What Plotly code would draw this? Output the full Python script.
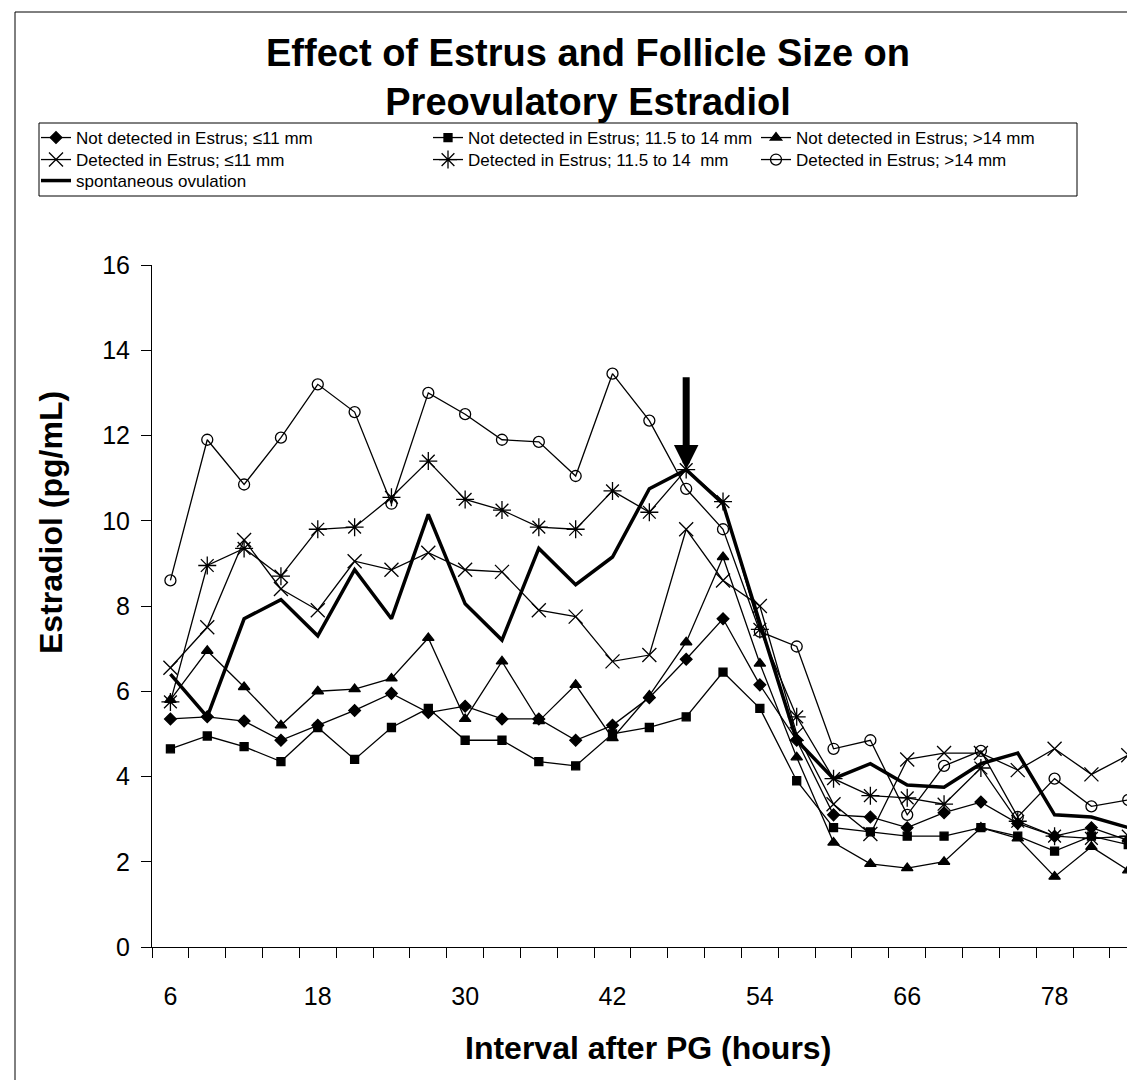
import plotly.graph_objects as go

# ---------------- data ----------------
hours = [6, 9, 12, 15, 18, 21, 24, 27, 30, 33, 36, 39, 42, 45, 48, 51, 54,
         57, 60, 63, 66, 69, 72, 75, 78, 81, 84]
x_tick_vals = [6, 18, 30, 42, 54, 66, 78]
y_tick_vals = [0, 2, 4, 6, 8, 10, 12, 14, 16]

nd_le11 = [5.35, 5.4, 5.3, 4.85, 5.2, 5.55, 5.95, 5.5, 5.65, 5.35, 5.35, 4.85, 5.2,
           5.85, 6.75, 7.7, 6.15, 4.85, 3.1, 3.05, 2.8, 3.15, 3.4, 2.9, 2.6, 2.8, 2.5]
nd_mid = [4.65, 4.95, 4.7, 4.35, 5.15, 4.4, 5.15, 5.6, 4.85, 4.85, 4.35, 4.25, 5.0,
          5.15, 5.4, 6.45, 5.6, 3.9, 2.8, 2.7, 2.6, 2.6, 2.8, 2.6, 2.25, 2.6, 2.4]
nd_gt14 = [5.8, 6.95, 6.1, 5.2, 6.0, 6.05, 6.3, 7.25, 5.35, 6.7, 5.3, 6.15, 4.9,
           5.9, 7.15, 9.15, 6.65, 4.45, 2.45, 1.95, 1.85, 2.0, 2.8, 2.55, 1.65, 2.35, 1.8]
d_le11 = [6.55, 7.5, 9.55, 8.4, 7.9, 9.05, 8.85, 9.25, 8.85, 8.8, 7.9, 7.75, 6.7,
          6.85, 9.8, 8.6, 8.0, 5.0, 3.35, 2.65, 4.4, 4.55, 4.55, 4.15, 4.65, 4.05, 4.5]
d_mid = [5.75, 8.95, 9.35, 8.7, 9.8, 9.85, 10.55, 11.4, 10.5, 10.25, 9.85, 9.8, 10.7,
         10.2, 11.2, 10.45, 7.45, 5.4, 3.95, 3.55, 3.5, 3.35, 4.2, 2.95, 2.6, 2.55, 2.6]
d_gt14 = [8.6, 11.9, 10.85, 11.95, 13.2, 12.55, 10.4, 13.0, 12.5, 11.9, 11.85, 11.05, 13.45,
          12.35, 10.75, 9.8, 7.4, 7.05, 4.65, 4.85, 3.1, 4.25, 4.6, 3.05, 3.95, 3.3, 3.45]
spont = [6.4, 5.4, 7.7, 8.15, 7.3, 8.85, 7.7, 10.15, 8.05, 7.2, 9.35, 8.5, 9.15,
         10.75, 11.2, 10.4, 7.6, 4.85, 3.95, 4.3, 3.8, 3.75, 4.3, 4.55, 3.1, 3.05, 2.8]

names = ["Not detected in Estrus; \u226411 mm",
         "Not detected in Estrus; 11.5 to 14 mm",
         "Not detected in Estrus; >14 mm",
         "Detected in Estrus; \u226411 mm",
         "Detected in Estrus; 11.5 to 14  mm",
         "Detected in Estrus; >14 mm",
         "spontaneous ovulation"]

arrow_hour = 48
arrow_tip = 11.2
arrow_tail = 13.4

# ---------------- layout geometry ----------------
W, H = 1135, 1080
ML, MR, MT, MB = 144, 0, 257, 141
PW, PH = W - ML - MR, H - MT - MB
FONT = "Liberation Sans, Arial, sans-serif"


def pxx(px):
    return (px - ML) / PW


def pxy(py):
    return (H - MB - py) / PH


fig = go.Figure()

# (values, symbol, size, legend id, legend column x, legend row y)
styles = [
    (nd_le11, "diamond", 9, "legend", 28, 130),
    (nd_mid, "square", 8, "legend2", 420, 130),
    (nd_gt14, "triangle-up", 10, "legend3", 748, 130),
    (d_le11, "x-thin-open", 14, "legend4", 28, 152),
    (d_mid, "asterisk-open", 15, "legend5", 420, 152),
    (d_gt14, "circle-open", 11, "legend6", 748, 152),
]
for i, (vals, sym, sz, lg, _, _) in enumerate(styles):
    fig.add_trace(go.Scatter(
        x=hours, y=vals, name=names[i], mode="lines+markers",
        line=dict(color="black", width=1.3),
        marker=dict(symbol=sym, size=sz, color="black",
                    line=dict(color="black", width=1.3)),
        legend=lg, showlegend=True,
    ))

fig.add_trace(go.Scatter(
    x=hours, y=spont, name=names[6], mode="lines",
    line=dict(color="black", width=3.5), legend="legend7", showlegend=True,
))

fig.add_annotation(
    x=arrow_hour, y=arrow_tip, ax=arrow_hour, ay=arrow_tail,
    xref="x", yref="y", axref="x", ayref="y", text="",
    showarrow=True, arrowhead=2, arrowsize=0.7, arrowwidth=7,
    arrowcolor="black", standoff=0,
)

# axis titles as annotations
fig.add_annotation(x=pxx(640), y=pxy(1040), xref="paper", yref="paper",
                   text="<b>Interval after PG (hours)</b>", showarrow=False,
                   font=dict(family=FONT, size=32, color="black"),
                   xanchor="center", yanchor="middle")
fig.add_annotation(x=pxx(43), y=pxy(515), xref="paper", yref="paper",
                   text="<b>Estradiol (pg/mL)</b>", showarrow=False, textangle=-90,
                   font=dict(family=FONT, size=32, color="black"),
                   xanchor="center", yanchor="middle")

# chart frame (left and top) and legend box
fig.add_shape(type="line", xref="paper", yref="paper",
              x0=pxx(7), x1=pxx(7), y0=pxy(4), y1=pxy(1080),
              line=dict(color="black", width=1))
fig.add_shape(type="line", xref="paper", yref="paper",
              x0=pxx(7), x1=pxx(1140), y0=pxy(4), y1=pxy(4),
              line=dict(color="black", width=1))
fig.add_shape(type="rect", xref="paper", yref="paper",
              x0=pxx(31), x1=pxx(1069), y0=pxy(115), y1=pxy(188),
              line=dict(color="black", width=1), fillcolor="rgba(0,0,0,0)")

leg_common = dict(orientation="v", xanchor="left", yanchor="middle",
                  bgcolor="rgba(0,0,0,0)", borderwidth=0,
                  font=dict(family=FONT, size=17, color="black"),
                  itemwidth=30)

legends = {}
for i, (_, _, _, lg, lx, ly) in enumerate(styles):
    legends[lg] = dict(x=pxx(lx), y=pxy(ly), **leg_common)
legends["legend7"] = dict(x=pxx(28), y=pxy(173), **leg_common)

fig.update_layout(
    width=W, height=H, showlegend=True,
    margin=dict(l=ML, r=MR, t=MT, b=MB, autoexpand=False),
    paper_bgcolor="white", plot_bgcolor="white",
    font=dict(family=FONT, color="black"),
    title=dict(text="<b>Effect of Estrus and Follicle Size on<br>Preovulatory Estradiol</b>",
               x=580 / W, xref="container", xanchor="center",
               y=1 - 58 / H, yref="container", yanchor="middle",
               font=dict(family=FONT, size=38, color="black")),
    xaxis=dict(range=[4.5, 85.2], tickmode="array", tickvals=x_tick_vals,
               ticktext=[str(v) for v in x_tick_vals], ticks="",
               showline=True, linecolor="black", linewidth=1,
               showgrid=False, zeroline=False,
               tickfont=dict(family=FONT, size=25, color="black"),
               ticklabelstandoff=27,
               minor=dict(tickmode="linear", tick0=4.5, dtick=3, ticks="outside",
                          ticklen=10, tickcolor="black", tickwidth=1, showgrid=False)),
    yaxis=dict(range=[0, 16], tickmode="array", tickvals=y_tick_vals,
               ticks="outside", ticklen=10, tickcolor="black", tickwidth=1,
               showline=True, linecolor="black", linewidth=1,
               showgrid=False, zeroline=False,
               tickfont=dict(family=FONT, size=25, color="black"),
               ticklabelstandoff=6),
    **legends,
)

fig.write_html("out.html")
